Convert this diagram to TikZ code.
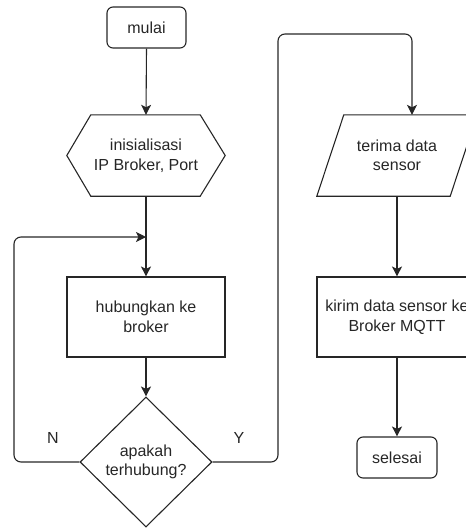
\documentclass[tikz,border=0pt]{standalone}
\usepackage{fontspec}
\setmainfont{Liberation Sans}
\usetikzlibrary{shapes.geometric,arrows.meta}
\begin{document}
\begin{tikzpicture}[x=1pt,y=-1pt,
  line/.style={draw=black!85, line width=1.1pt},
  arr/.style={line, -{Stealth[length=10pt,width=10pt,inset=2.5pt]}},
  txt/.style={font=\fontsize{16}{19.5}\selectfont, text=black!85, align=center, inner sep=0pt},
  procbox/.style={txt, line, rectangle},
  termbox/.style={txt, line, rectangle, rounded corners=6pt, minimum width=79pt, minimum height=41pt},
  ghostbox/.style={txt, rectangle, draw=none},
  decbox/.style={txt, line, diamond, minimum width=132pt, minimum height=130pt},
  conn/.style={arr, rounded corners=7pt}]
\useasboundingbox (0,0) rectangle (466,528);
\clip (0,0) rectangle (466,528);

% nodes
\node[termbox] (mulai) at (146.5,27.5) {mulai};
\node[ghostbox, minimum width=158pt, minimum height=81pt] (init) at (146,155.5) {inisialisasi\\IP Broker, Port};
\draw[line] (init.west) -- ([xshift=24pt]init.north west) -- ([xshift=-25pt]init.north east)
  -- (init.east) -- ([xshift=-25pt]init.south east) -- ([xshift=24pt]init.south west) -- cycle;
\node[procbox, minimum width=158pt, minimum height=80pt] (hub) at (146,317) {hubungkan ke\\broker};
\node[decbox] (dec) at (146,462) {apakah\\terhubung?};
\node[ghostbox, minimum width=160pt, minimum height=81pt] (terima) at (397,155.5) {terima data\\sensor};
\draw[line] ([xshift=27pt]terima.north west) -- (terima.north east)
  -- ([xshift=-27pt]terima.south east) -- (terima.south west) -- cycle;
\node[procbox, minimum width=160pt, minimum height=80pt] (kirim) at (397,317) {kirim data sensor ke\\Broker MQTT};
\node[termbox, minimum width=80pt] (selesai) at (397,457.5) {selesai};

% labels
\node[txt] (nlab) at (53,438) {N};
\node[txt] (ylab) at (239,438) {Y};

% connectors
\coordinate (join) at (146,237);
\coordinate (lc1) at (14,462);
\coordinate (lc2) at (14,237);
\coordinate (rc1) at (278,462);
\coordinate (rc2) at (278,34);
\coordinate (rc3) at (412,34);
\draw[arr] (mulai.south) -- (init.north);
\draw[arr] (init.south) -- (hub.north);
\draw[arr] (hub.south) -- (dec.north);
\draw[conn] (dec.west) -- (lc1) -- (lc2) -- (join);
\draw[conn] (dec.east) -- (rc1) -- (rc2) -- (rc3) -- ([xshift=15pt]terima.north);
\draw[arr] (terima.south) -- (kirim.north);
\draw[arr] (kirim.south) -- (selesai.north);
\end{tikzpicture}
\end{document}
